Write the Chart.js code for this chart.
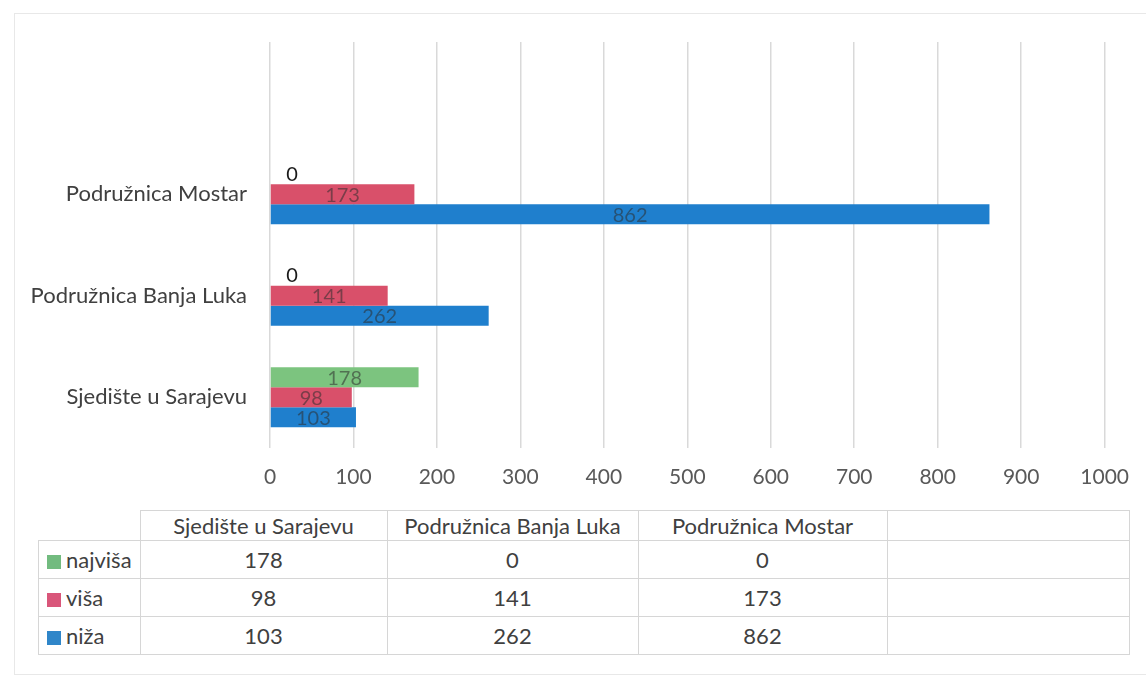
<!DOCTYPE html>
<html>
<head>
<meta charset="utf-8">
<script src="https://cdn.jsdelivr.net/npm/chart.js@4/dist/chart.umd.min.js"></script>
<style>
    body { margin: 0; background: #fff; font-family: Lato, "Noto Sans", sans-serif; }
    #wrap { position: relative; width: 1146px; height: 680px; overflow: hidden; }
    #frame { position: absolute; left: 14px; top: 13px; width: 1140px; height: 660px; border: 1px solid #e8e8e8; }
    #chart { position: absolute; left: 0; top: 0; }
    #dataTable { position: absolute; left: 38px; top: 510px; border-collapse: collapse; color: #404040; font-size: 22px; }
    #dataTable td { border: 1px solid #d6d6d6; text-align: center; padding: 0; }
    #dataTable tr.head td { height: 29px; }
    #dataTable tr.row td { height: 37px; }
    #dataTable td.corner { border-top: none; border-left: none; }
    #dataTable td.name { text-align: left; padding-left: 8px; }
    .swatch { display: inline-block; width: 14px; height: 14px; margin-right: 5px; vertical-align: -1px; }
</style>
</head>
<body>
<div id="wrap">
    <div id="frame"></div>
    <canvas id="chart" width="1146" height="500"></canvas>
    <table id="dataTable"></table>
</div>
<script>
// categories in table order, last one is the empty column
const categories = ['Sjedište u Sarajevu', 'Podružnica Banja Luka', 'Podružnica Mostar', ''];
const seriesNames = ['najviša', 'viša', 'niža'];
const najvisa = [178, 0, 0, null];
const visa = [98, 141, 173, null];
const niza = [103, 262, 862, null];
const xTicks = [0, 100, 200, 300, 400, 500, 600, 700, 800, 900, 1000];

const barColors = ['#7cc47f', '#d9506a', '#1f7fcd'];
const swatchColors = ['#72bb7f', '#d9567a', '#2f86c9'];
const allSeries = [najvisa, visa, niza];

// chart draws categories from the top: empty, Mostar, Banja Luka, Sarajevo
const chartLabels = categories.slice().reverse();

const valueLabels = {
    id: 'valueLabels',
    afterDatasetsDraw(chart) {
        const ctx = chart.ctx;
        ctx.save();
        ctx.font = '20px Lato, sans-serif';
        ctx.textAlign = 'center';
        ctx.textBaseline = 'middle';
        chart.data.datasets.forEach((ds, i) => {
            const meta = chart.getDatasetMeta(i);
            meta.data.forEach((bar, j) => {
                const v = ds.data[j];
                if (v === null || v === undefined) return;
                if (v === 0) {
                    ctx.fillStyle = '#1a1a1a';
                    ctx.fillText('0', bar.base + 22, bar.y);
                } else {
                    ctx.fillStyle = 'rgba(45,45,45,0.55)';
                    ctx.fillText(String(v), (bar.x + bar.base) / 2, bar.y + 1);
                }
            });
        });
        ctx.restore();
    }
};

new Chart(document.getElementById('chart'), {
    type: 'bar',
    data: {
        labels: chartLabels,
        datasets: allSeries.map((s, i) => ({
            label: seriesNames[i],
            data: s.slice().reverse(),
            backgroundColor: barColors[i],
            barPercentage: 1,
            categoryPercentage: 0.59
        }))
    },
    options: {
        indexAxis: 'y',
        responsive: false,
        animation: false,
        layout: { padding: { top: 42, right: 30, left: 0, bottom: 0 } },
        plugins: {
            legend: { display: false },
            tooltip: { enabled: false }
        },
        scales: {
            x: {
                min: 0,
                max: 1000,
                afterBuildTicks: (scale) => { scale.ticks = xTicks.map(v => ({ value: v })); },
                afterFit: (scale) => { scale.height = 52; },
                grid: { color: '#d9d9d9', lineWidth: 1.5, drawTicks: false },
                border: { display: false },
                ticks: {
                    padding: 17,
                    color: '#595959',
                    font: { family: 'Lato', size: 21 },
                    callback: (v) => String(v)
                }
            },
            y: {
                afterFit: (scale) => { scale.width = 270; },
                grid: { display: false, drawTicks: false },
                border: { display: false },
                ticks: { padding: 23, color: '#404040', font: { family: 'Lato', size: 22 } }
            }
        }
    },
    plugins: [valueLabels]
});

// data table under the chart
const table = document.getElementById('dataTable');
const colWidths = [101, 246, 250, 248, 241];
let html = '<tr class="head"><td class="corner" style="width:' + colWidths[0] + 'px"></td>';
categories.forEach((c, i) => {
    html += '<td style="width:' + colWidths[i + 1] + 'px">' + c + '</td>';
});
html += '</tr>';
allSeries.forEach((s, i) => {
    html += '<tr class="row"><td class="name"><span class="swatch" style="background:' + swatchColors[i] + '"></span>' + seriesNames[i] + '</td>';
    s.forEach(v => { html += '<td>' + (v === null ? '' : v) + '</td>'; });
    html += '</tr>';
});
table.innerHTML = html;
</script>
</body>
</html>
